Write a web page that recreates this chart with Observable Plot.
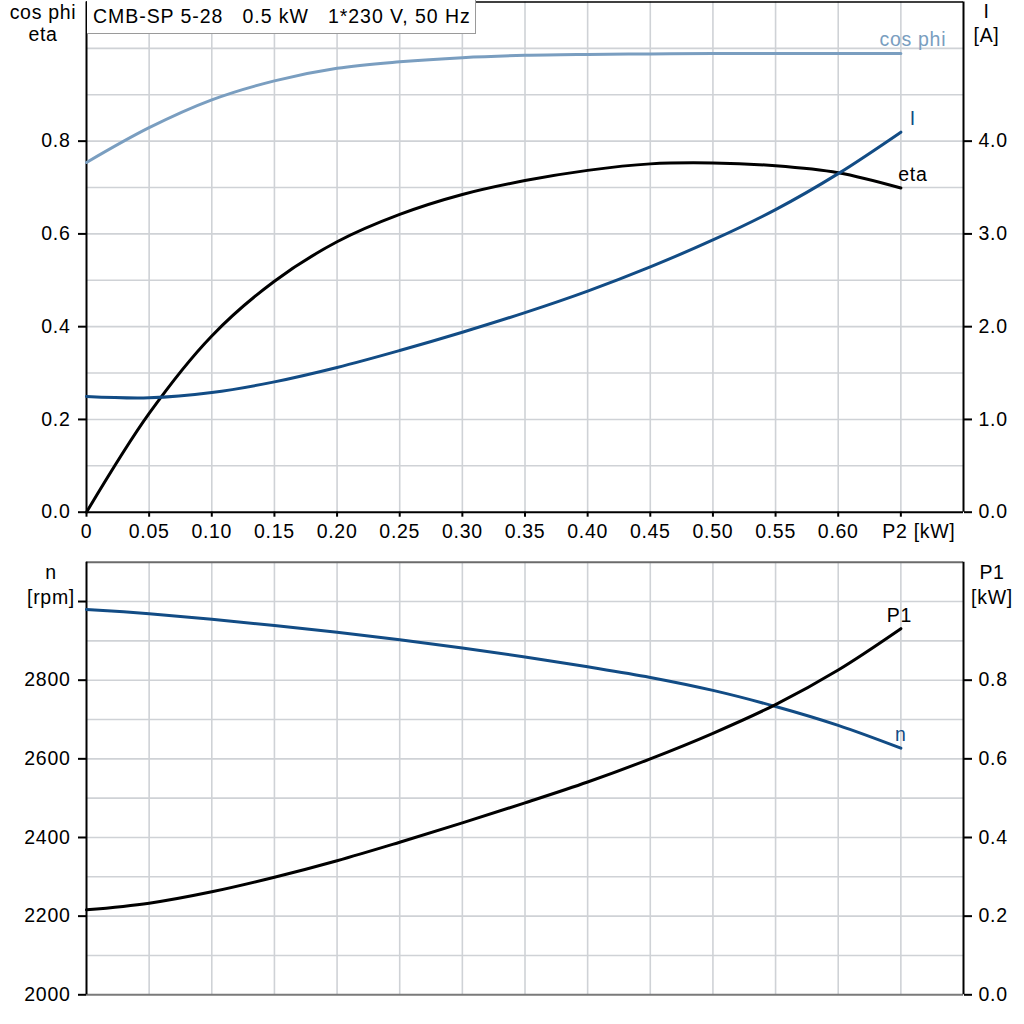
<!DOCTYPE html>
<html><head><meta charset="utf-8">
<script src="https://cdn.jsdelivr.net/npm/d3@7"></script>
<script src="https://cdn.jsdelivr.net/npm/@observablehq/plot@0.6"></script>
<style>
html,body{margin:0;padding:0;background:#fff;}
#wrap{position:relative;width:1024px;height:1024px;font-family:"Liberation Sans",Arial,sans-serif;overflow:hidden;}
#topPanel,#bottomPanel{position:absolute;left:0;}
#topPanel{top:0}
#bottomPanel{top:545px}
#title{position:absolute;left:87px;top:0;height:34px;width:389px;box-sizing:border-box;border:1px solid #9a9a9a;border-left:none;border-top:none;background:#fff;font-size:19.5px;letter-spacing:0.95px;line-height:32px;padding-left:6px;white-space:pre;color:#000}
</style></head><body>
<div id="wrap"><div id="topPanel"></div><div id="bottomPanel"></div><div id="title">CMB-SP 5-28   0.5 kW   1*230 V, 50 Hz</div></div>
<script>
// ---- data ----
const P2     = [0, 0.05, 0.10, 0.15, 0.20, 0.25, 0.30, 0.35, 0.40, 0.45, 0.50, 0.55, 0.60, 0.65];
const cosPhi = [0.754, 0.829, 0.889, 0.930, 0.957, 0.971, 0.980, 0.985, 0.987, 0.988, 0.989, 0.989, 0.989, 0.989];
const eta    = [0.000, 0.213, 0.380, 0.498, 0.583, 0.642, 0.685, 0.715, 0.737, 0.751, 0.753, 0.747, 0.732, 0.699];
const I      = [1.247, 1.233, 1.290, 1.405, 1.560, 1.743, 1.940, 2.152, 2.384, 2.645, 2.935, 3.262, 3.650, 4.097];
const nRpm   = [2980, 2969, 2955, 2939, 2922, 2903, 2882, 2859, 2834, 2807, 2774, 2733, 2685, 2627];
const P1     = [0.216, 0.233, 0.262, 0.299, 0.341, 0.388, 0.437, 0.488, 0.541, 0.600, 0.665, 0.738, 0.826, 0.931];

const xTicks      = [0, 0.05, 0.10, 0.15, 0.20, 0.25, 0.30, 0.35, 0.40, 0.45, 0.50, 0.55, 0.60, 0.65];
const xTickLabels = ["0", "0.05", "0.10", "0.15", "0.20", "0.25", "0.30", "0.35", "0.40", "0.45", "0.50", "0.55", "0.60", ""];
const xUnitLabel  = "P2 [kW]";
const topLeftTicks  = [0, 0.2, 0.4, 0.6, 0.8];
const topGrid       = [0.1, 0.2, 0.3, 0.4, 0.5, 0.6, 0.7, 0.8, 0.9, 1.0];
const iTicks        = [0, 1, 2, 3, 4];
const nTicks        = [2000, 2200, 2400, 2600, 2800, 3000];
const nTickLabels   = ["2000", "2200", "2400", "2600", "2800", ""];
const nGrid         = [2100, 2200, 2300, 2400, 2500, 2600, 2700, 2800, 2900, 3000];
const p1Ticks       = [0, 0.2, 0.4, 0.6, 0.8];

(function () {
// ---- styles ----
const FONT = "'Liberation Sans', Arial, sans-serif";
const GRID = "#cfd2d6";
const COS = "#7a9ec0";
const BLUE = "#124c85";
const CURVE = "catmull-rom";
const W = 1024, ML = 86, MR = 61;
const iScale = 5;          // I [A] = 5 * left-axis units
const nBase = 2000, p1Scale = 1000;  // n = 2000 + 1000*P1
const STYLE = {fontFamily: FONT, fontSize: "19.5px", letterSpacing: "0.7px", color: "#000", background: "#fff", overflow: "visible"};

const gridX = xTicks.slice(1);
const topRows = P2.map((x, i) => ({x, cos: cosPhi[i], eta: eta[i], I: I[i] / iScale}));
const botRows = P2.map((x, i) => ({x, n: nRpm[i], P1: nBase + P1[i] * p1Scale}));
const iTickPos = iTicks.map(v => v / iScale);
const p1TickPos = p1Ticks.map(v => nBase + v * p1Scale);
const last = a => [a[a.length - 1]];

const topChart = Plot.plot({
  width: W, height: 545,
  marginLeft: ML, marginRight: MR, marginTop: 1.5, marginBottom: 33.3,
  style: STYLE,
  x: {domain: [0, 0.7]},
  y: {domain: [0, 1.1]},
  marks: [
    Plot.gridX(gridX, {stroke: GRID, strokeOpacity: 1, strokeWidth: 1.6}),
    Plot.gridY(topGrid, {stroke: GRID, strokeOpacity: 1, strokeWidth: 1.6}),
    Plot.ruleY([1.1], {stroke: "#000", strokeWidth: 1.5}),
    Plot.ruleY([0], {stroke: "#000", strokeWidth: 2}),
    Plot.ruleX([0], {stroke: "#000", strokeWidth: 2}),
    Plot.ruleX([0.7], {stroke: "#000", strokeWidth: 2}),
    Plot.axisX(xTicks, {tickSize: 5, tickPadding: 6.5, strokeWidth: 2, label: null,
      tickFormat: d => xTickLabels[xTicks.indexOf(d)]}),
    Plot.text([xTicks[xTicks.length - 1]], {x: d => d, frameAnchor: "bottom", dx: 18, dy: 11.6,
      lineAnchor: "top", text: () => xUnitLabel, fill: "#000"}),
    Plot.axisY(topLeftTicks, {anchor: "left", tickSize: 8, tickPadding: 8, strokeWidth: 2, label: null,
      tickFormat: d => d.toFixed(1)}),
    Plot.axisY(iTickPos, {anchor: "right", tickSize: 8, tickPadding: 7, strokeWidth: 2, label: null,
      tickFormat: d => iTicks[iTickPos.indexOf(d)].toFixed(1)}),
    Plot.line(topRows, {x: "x", y: "cos", stroke: COS, strokeWidth: 3, curve: CURVE}),
    Plot.line(topRows, {x: "x", y: "eta", stroke: "#000", strokeWidth: 3, curve: CURVE}),
    Plot.line(topRows, {x: "x", y: "I", stroke: BLUE, strokeWidth: 3, curve: CURVE}),
    Plot.text(last(topRows), {x: "x", y: "cos", text: () => "cos phi", dx: 12, dy: -7, lineAnchor: "bottom", fill: COS}),
    Plot.text(last(topRows), {x: "x", y: "I", text: () => "I", dx: 12, dy: -7, lineAnchor: "bottom", fill: BLUE}),
    Plot.text(last(topRows), {x: "x", y: "eta", text: () => "eta", dx: 12, dy: -7, lineAnchor: "bottom", fill: "#000"}),
    Plot.text(["cos phi\neta"], {frameAnchor: "top-left", text: d => d, dx: -43.5, dy: 39, lineAnchor: "bottom", lineHeight: 1.15, textAnchor: "middle", fill: "#000"}),
    Plot.text(["I\n[A]"], {frameAnchor: "top-right", text: d => d, dx: 23, dy: 40, lineAnchor: "bottom", lineHeight: 1.23, textAnchor: "middle", fill: "#000"})
  ]
});
document.getElementById("topPanel").appendChild(topChart);

const bottomChart = Plot.plot({
  width: W, height: 479,
  marginLeft: ML, marginRight: MR, marginTop: 16.7, marginBottom: 29.7,
  style: STYLE,
  x: {domain: [0, 0.7], axis: null},
  y: {domain: [2000, 3100]},
  marks: [
    Plot.gridX(gridX, {stroke: GRID, strokeOpacity: 1, strokeWidth: 1.6}),
    Plot.gridY(nGrid, {stroke: GRID, strokeOpacity: 1, strokeWidth: 1.6}),
    Plot.ruleY([3100], {stroke: "#6b6b6b", strokeWidth: 2}),
    Plot.ruleY([2000], {stroke: "#7a7a7a", strokeWidth: 2}),
    Plot.ruleX([0], {stroke: "#000", strokeWidth: 2}),
    Plot.ruleX([0.7], {stroke: "#000", strokeWidth: 2}),
    Plot.axisY(nTicks, {anchor: "left", tickSize: 8, tickPadding: 8, strokeWidth: 2, label: null,
      tickFormat: d => nTickLabels[nTicks.indexOf(d)]}),
    Plot.axisY(p1TickPos, {anchor: "right", tickSize: 8, tickPadding: 7, strokeWidth: 2, label: null,
      tickFormat: d => p1Ticks[p1TickPos.indexOf(d)].toFixed(1)}),
    Plot.line(botRows, {x: "x", y: "n", stroke: BLUE, strokeWidth: 3, curve: CURVE}),
    Plot.line(botRows, {x: "x", y: "P1", stroke: "#000", strokeWidth: 3, curve: CURVE}),
    Plot.text(last(botRows), {x: "x", y: "P1", text: () => "P1", dx: -1.5, dy: -7, lineAnchor: "bottom", fill: "#000"}),
    Plot.text(last(botRows), {x: "x", y: "n", text: () => "n", dx: 0, dy: -7, lineAnchor: "bottom", fill: BLUE}),
    Plot.text(["n\n[rpm]"], {frameAnchor: "top-left", text: d => d, dx: -35.5, dy: 41.3, lineAnchor: "bottom", lineHeight: 1.26, textAnchor: "middle", fill: "#000"}),
    Plot.text(["P1\n[kW]"], {frameAnchor: "top-right", text: d => d, dx: 28.5, dy: 41.3, lineAnchor: "bottom", lineHeight: 1.26, textAnchor: "middle", fill: "#000"})
  ]
});
document.getElementById("bottomPanel").appendChild(bottomChart);
})();
</script>
</body></html>
